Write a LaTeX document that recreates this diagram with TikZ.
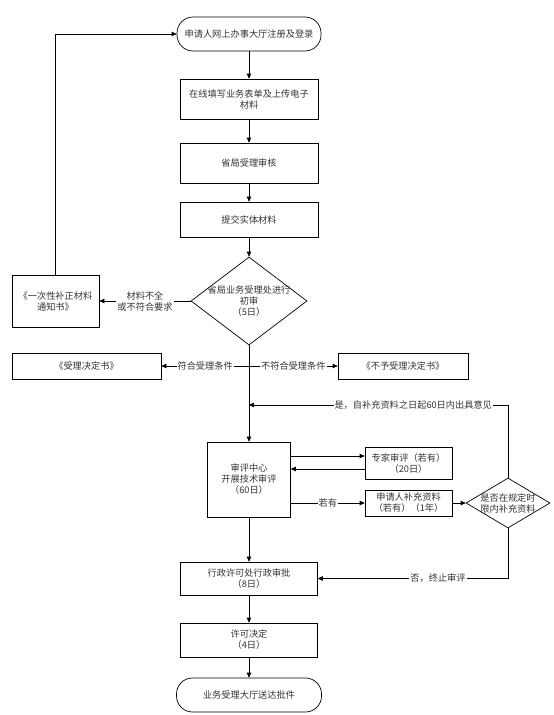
\documentclass[tikz,border=0pt]{standalone}
\usepackage{fontspec}
\newfontfamily\cjk{Noto Sans CJK SC}
\usetikzlibrary{arrows.meta,shapes.geometric}

\begin{document}
\begin{tikzpicture}[x=1pt,y=-1pt,
    font=\cjk\fontsize{9.2}{11}\selectfont,
    line width=0.7pt,
    every node/.style={text=black!80},
    box/.style={draw,line width=0.7pt,align=center,inner sep=0pt},
    term/.style={box,rounded corners=16pt},
    dec/.style={box,diamond},
    lbl/.style={fill=white,inner sep=1pt,align=center},
    >={Triangle[length=5pt,width=4.5pt]}]
    %\draw[very thin,color=gray] (0,0) grid[step=50] (554,715);
    \useasboundingbox (0,0) rectangle (554,715);
    \node[term,minimum width=144,minimum height=34] (start) at (249,34) {申请人网上办事大厅注册及登录};
    \node[box,minimum width=138,minimum height=40] (fill) at (249,99) {在线填写业务表单及上传电子\\材料};
    \node[box,minimum width=138,minimum height=40] (check) at (249,163) {省局受理审核};
    \node[box,minimum width=138,minimum height=35] (submit) at (249,219.5) {提交实体材料};
    \node[dec,aspect=1.32,inner sep=-2pt,minimum width=116,minimum height=88] (first) at (249,301) {省局业务受理处进行\\初审\\（5日）};
    \node[box,minimum width=87,minimum height=52] (notice) at (55.5,301) {《一次性补正材料\\通知书》};
    \node[box,minimum width=149,minimum height=26] (accept) at (86.5,366) {《受理决定书》};
    \node[box,minimum width=130,minimum height=26] (reject) at (403,366) {《不予受理决定书》};
    \node[box,minimum width=83,minimum height=75] (review) at (249,479.5) {审评中心\\开展技术审评\\（60日）};
    \node[box,minimum width=87,minimum height=32] (expert) at (408.5,463) {专家审评（若有）\\（20日）};
    \node[box,minimum width=87,minimum height=26] (supply) at (408.5,503) {申请人补充资料\\（若有）（1年）};
    \node[dec,aspect=1.68,inner sep=-4pt,minimum width=84,minimum height=50] (timely) at (508,503) {是否在规定时\\限内补充资料};
    \node[box,minimum width=137,minimum height=33] (approve) at (249,578.5) {行政许可处行政审批\\（8日）};
    \node[box,minimum width=137,minimum height=34] (permit) at (249,640) {许可决定\\（4日）};
    \node[term,minimum width=145,minimum height=34] (end) at (249,695) {业务受理大厅送达批件};
    \coordinate (j1) at (249,366);
    \coordinate (j2) at (249,405);
    \coordinate (e1) at ([yshift=7pt]expert.west);
    \coordinate (e2) at ([yshift=-6pt]expert.west);

    \draw[->] (start) -- (fill);
    \draw[->] (fill) -- (check);
    \draw[->] (check) -- (submit);
    \draw[->] (submit) -- (first);
    \draw[->] (first.west) -- node[lbl] {材料不全\\或不符合要求} (notice.east);
    \draw[->] (notice.north) |- (start.west);
    \draw[->] (j1) -- node[lbl] {符合受理条件} (accept.east);
    \draw[->] (j1) -- node[lbl] {不符合受理条件} (reject.west);
    \draw[->] (first.south) -- (review.north);
    \draw[->] (review.east |- e1) -- (e1);
    \draw[->] (e2) -- (review.east |- e2);
    \draw[->] (review.east |- supply.west) -- node[lbl] {若有} (supply.west);
    \draw[->] (supply.east) -- (timely.west);
    \draw[->] (timely.north) |- node[lbl,pos=0.683] {是，自补充资料之日起60日内出具意见} (j2);
    \draw[->] (timely.south) |- node[lbl,pos=0.684] {否，终止审评} (approve.east);
    \draw[->] (review.south) -- (approve.north);
    \draw[->] (approve) -- (permit);
    \draw[->] (permit) -- (end);
\end{tikzpicture}
\end{document}
